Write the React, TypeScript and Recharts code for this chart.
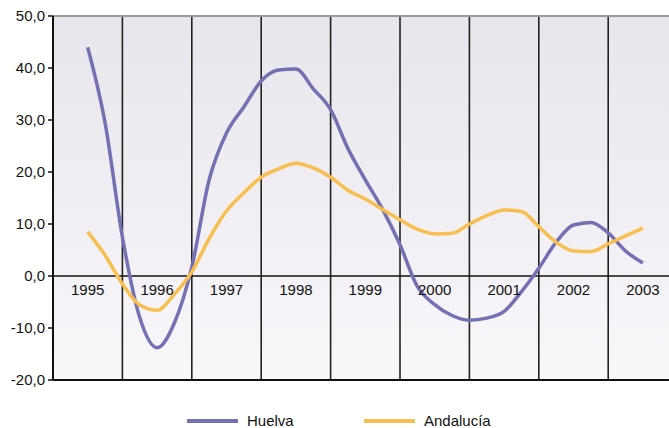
import { CartesianGrid, Line, LineChart, ReferenceLine, XAxis, YAxis } from "recharts";

const quarters = [
  1995, 1995.25, 1995.5, 1995.75, 1996, 1996.25, 1996.5, 1996.75, 1997, 1997.25, 1997.5, 1997.75,
  1998, 1998.25, 1998.5, 1998.75, 1999, 1999.25, 1999.5, 1999.75, 2000, 2000.25, 2000.5, 2000.75,
  2001, 2001.25, 2001.5, 2001.75, 2002, 2002.25, 2002.5, 2002.75, 2003,
];
const huelva = [
  44, 29.5, 7.5, -8, -13.8, -9, 1.7, 18.5, 27.5, 32.5, 37.5, 39.6,
  39.8, 36, 32, 24.5, 18.5, 12.8, 6, -2, -5.5, -7.6, -8.5, -8.1,
  -6.8, -3, 1.5, 6.5, 9.8, 10.3, 8.3, 4.8, 2.5,
];
const andalucia = [
  8.5, 4, -1.5, -5.6, -6.6, -3.5, 0.8, 7.2, 12.5, 16, 19, 20.6,
  21.7, 20.8, 19, 16.5, 14.8, 12.8, 10.8, 9, 8.1, 8.2, 10, 11.6,
  12.7, 12.4, 9.5, 6.5, 4.8, 4.7, 6.2, 7.7, 9.2,
];
const years = [1995, 1996, 1997, 1998, 1999, 2000, 2001, 2002, 2003];
const yearBounds = [1995.5, 1996.5, 1997.5, 1998.5, 1999.5, 2000.5, 2001.5, 2002.5];
const yTicks = [-20, -10, 0, 10, 20, 30, 40, 50];

const data = quarters.map((q, i) => ({ q, huelva: huelva[i], andalucia: andalucia[i] }));

const font = "'Liberation Sans', Arial, Helvetica, sans-serif";
const purple = "#7370b4";
const yellow = "#f8be4f";

function YearTick({ x, payload }: { x: number; payload: { value: number } }) {
  return (
    <text x={x} y={295} textAnchor="middle" fontSize={15} fontFamily={font} fill="#111">
      {payload.value}
    </text>
  );
}

function ChartLegend() {
  const items = [
    { label: "Huelva", color: purple, width: 177 },
    { label: "Andalucía", color: yellow, width: 160 },
  ];
  return (
    <div
      style={{
        position: "absolute", left: 0, top: 411, width: 669,
        display: "flex", alignItems: "center", paddingLeft: 187,
        fontFamily: font, fontSize: 15, color: "#111", lineHeight: "20px",
      }}
    >
      {items.map((it) => (
        <div key={it.label} style={{ display: "flex", alignItems: "center", width: it.width }}>
          <span style={{ display: "inline-block", width: 51, height: 4, background: it.color, marginRight: 9 }} />
          <span>{it.label}</span>
        </div>
      ))}
    </div>
  );
}

export default function App() {
  return (
    <div style={{ position: "absolute", left: 0, top: 0, width: 669, height: 428, background: "#fff" }}>
      <LineChart width={669} height={428} data={data} margin={{ top: 16, right: 0, bottom: 18, left: 0 }}>
        <defs>
          <linearGradient id="bg" x1="0" y1="0" x2="0" y2="1">
            <stop offset="0%" stopColor="#e9e5ec" />
            <stop offset="100%" stopColor="#f8f7fa" />
          </linearGradient>
        </defs>
        <CartesianGrid horizontal={false} vertical={false} fill="url(#bg)" />
        <XAxis
          dataKey="q"
          type="number"
          domain={[1994.5, 2003.376]}
          ticks={years}
          height={30}
          allowDataOverflow
          tick={YearTick as any}
          tickLine={false}
          axisLine={{ stroke: "#111", strokeWidth: 2 }}
        />
        <YAxis
          width={53}
          domain={[-20, 50]}
          ticks={yTicks}
          interval={0}
          tickFormatter={(v: number) => v.toFixed(1).replace(".", ",")}
          tick={{ fontSize: 15, fontFamily: font, fill: "#111" }}
          tickSize={5}
          tickMargin={3}
          tickLine={{ stroke: "#111", strokeWidth: 1.5 }}
          axisLine={{ stroke: "#111", strokeWidth: 2 }}
        />
        {yearBounds.map((b) => (
          <ReferenceLine key={b} x={b} stroke="#222" strokeWidth={1.6} />
        ))}
        <ReferenceLine y={0} stroke="#111" strokeWidth={1.6} />
        <ReferenceLine y={50} stroke="#9a9a9a" strokeWidth={2} />
        <Line type="monotone" dataKey="huelva" name="Huelva" stroke={purple} strokeWidth={3.5} dot={false} isAnimationActive={false} />
        <Line type="monotone" dataKey="andalucia" name="Andalucía" stroke={yellow} strokeWidth={3.5} dot={false} isAnimationActive={false} />
      </LineChart>
      <ChartLegend />
    </div>
  );
}
